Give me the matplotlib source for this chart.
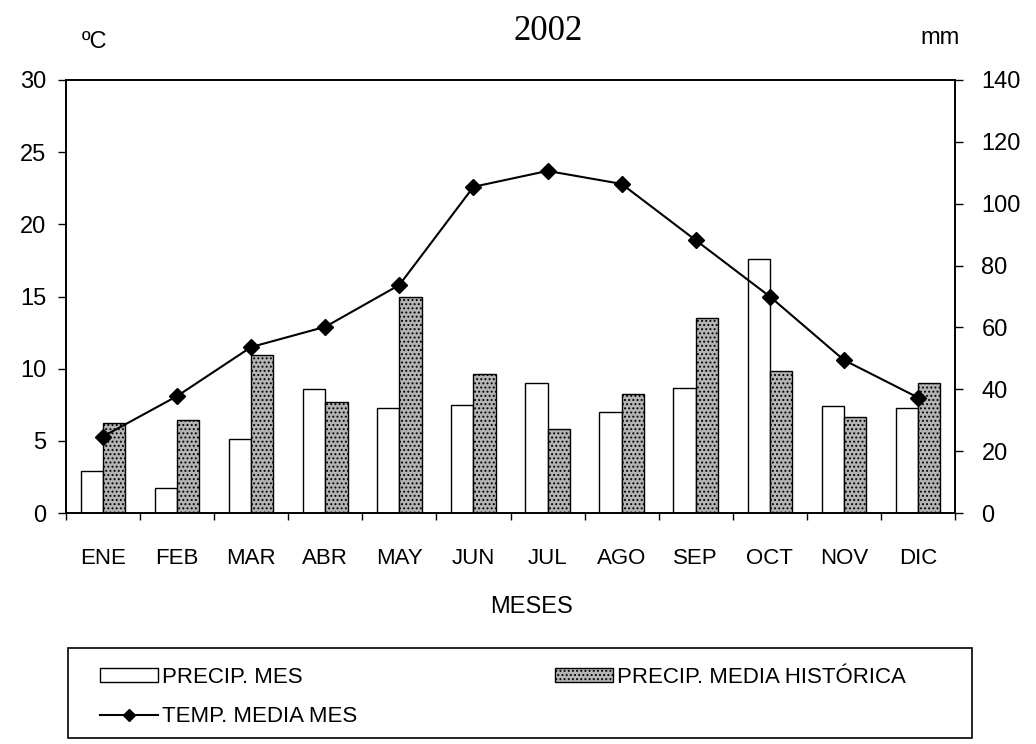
import matplotlib
matplotlib.use('Agg')
import matplotlib.pyplot as plt
import numpy as np
from matplotlib.patches import Patch, Rectangle
from matplotlib.lines import Line2D

plt.rcParams['font.family'] = ['Liberation Sans', 'DejaVu Sans']
plt.rcParams['hatch.linewidth'] = 0.9

months = ['ENE', 'FEB', 'MAR', 'ABR', 'MAY', 'JUN', 'JUL', 'AGO', 'SEP', 'OCT', 'NOV', 'DIC']
# mean monthly temperature (left axis, ºC)
temp_mes = [5.3, 8.1, 11.5, 12.9, 15.8, 22.6, 23.7, 22.8, 18.9, 15.0, 10.6, 8.0]
# monthly precipitation 2002 (right axis, mm)
precip_mes = [13.5, 8.0, 24.0, 40.0, 34.0, 35.0, 42.0, 32.5, 40.5, 82.0, 34.5, 34.0]
# historical mean precipitation (mm)
precip_hist = [29.0, 30.0, 51.0, 36.0, 70.0, 45.0, 27.0, 38.5, 63.0, 46.0, 31.0, 42.0]

W, H = 1036, 744
fig = plt.figure(figsize=(W / 100, H / 100), dpi=100)
ax = fig.add_axes([66 / W, 1 - 513 / H, (955 - 66) / W, (513 - 80) / H])
ax2 = ax.twinx()

x = np.arange(len(months))
bw = 0.3
hist_face = '#b4b4b4'
ax2.bar(x - bw / 2, precip_mes, bw, facecolor='white', edgecolor='black', linewidth=1.0)
ax2.bar(x + bw / 2, precip_hist, bw, facecolor=hist_face, edgecolor='black', linewidth=1.0,
        hatch='....')
ax2.set_ylim(0, 140)
ax2.set_yticks(np.arange(0, 141, 20))

# line on top of the bars
ax.set_zorder(ax2.get_zorder() + 1)
ax.patch.set_visible(False)
ax.plot(x, temp_mes, color='black', linewidth=1.5, marker='D', markersize=8)
ax.set_ylim(0, 30)
ax.set_yticks(np.arange(0, 31, 5))
ax.set_xlim(-0.5, len(months) - 0.5)

ax.set_xticks(np.arange(-0.5, len(months), 1.0))
ax.set_xticklabels([])
ax.set_xticks(x, minor=True)
ax.set_xticklabels(months, minor=True, fontsize=16)
ax.tick_params(axis='x', which='major', direction='out', length=5, width=1)
ax.tick_params(axis='x', which='minor', length=0, pad=25)
ax.tick_params(axis='y', direction='out', length=6, width=1, labelsize=17, pad=8)
ax2.tick_params(axis='y', direction='out', length=6, width=1, labelsize=17, pad=13)

for a in (ax, ax2):
    for s in a.spines.values():
        s.set_linewidth(1.2)

fig.text(548 / W, 1 - 32 / H, '2002', family='Liberation Serif', fontsize=25,
         ha='center', va='center')
fig.text(95 / W, 1 - 42 / H, 'ºC', fontsize=17, ha='center', va='center')
fig.text(940 / W, 1 - 38 / H, 'mm', fontsize=17, ha='center', va='center')
fig.text(531 / W, 1 - 607 / H, 'MESES', fontsize=17, ha='center', va='center')

# legend box drawn separately so it spans the full width
fig.patches.append(Rectangle((68 / W, 1 - 738 / H), (972 - 68) / W, 90 / H,
                             transform=fig.transFigure, fill=False,
                             edgecolor='black', linewidth=1.2))

handles = [
    Patch(facecolor='white', edgecolor='black', linewidth=1.0),
    Line2D([0], [0], color='black', linewidth=1.5, marker='D', markersize=6),
    Patch(facecolor=hist_face, edgecolor='black', linewidth=1.0, hatch='....'),
]
labels = ['PRECIP. MES', 'TEMP. MEDIA MES', 'PRECIP. MEDIA HISTÓRICA']
fig.legend(handles, labels, loc='upper left',
           bbox_to_anchor=(100 / W, 1 - 667 / H),
           ncol=2, fontsize=16, frameon=False, borderaxespad=0, borderpad=0,
           handlelength=2.6, handleheight=0.6, handletextpad=0.2,
           labelspacing=0.83, columnspacing=8.9)

fig.savefig('out.png', dpi=100)
